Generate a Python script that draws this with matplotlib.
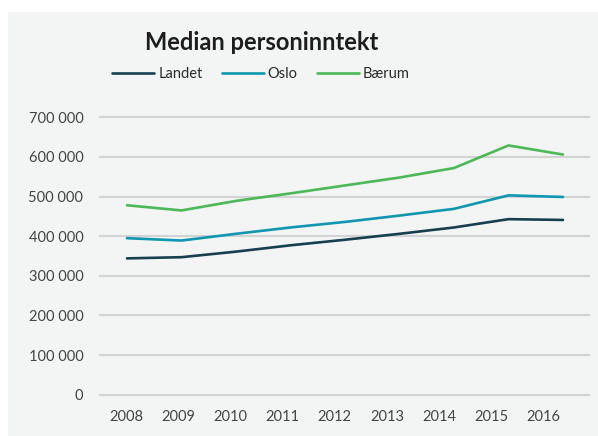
#! /bin/env python3
# plot.py - median personinntekt, Landet / Oslo / Bærum
import matplotlib
matplotlib.use("Agg")
import matplotlib.pyplot as plt
import matplotlib.patches as mpatches
import numpy as np

years = ["2008", "2009", "2010", "2011", "2012", "2013", "2014", "2015", "2016"]
landet = [344000, 347000, 361000, 377000, 391000, 406000, 422000, 443000, 441000]
oslo = [395000, 389000, 406000, 422000, 436000, 452000, 469000, 503000, 499000]
baerum = [478000, 465000, 489000, 508000, 528000, 548000, 572000, 629000, 606000]
yticks = [0, 100000, 200000, 300000, 400000, 500000, 600000, 700000]

plt.rcParams['font.family'] = ['Lato', 'DejaVu Sans']

fig = plt.figure(figsize=(5.98, 4.36), dpi=100, facecolor="white")
# light grey panel behind everything (zorder below the axes)
fig.patches.append(mpatches.Rectangle((8/598, 0), 1, 1 - 12/436, transform=fig.transFigure,
                                      facecolor="#f3f5f5", edgecolor="none", zorder=-5))

ax = fig.add_axes([100/598, 1 - 394.7/436, 489/598, (394.7 - 117.3)/436])
ax.set_facecolor("none")

x = np.arange(len(years))
ax.plot(x, landet, color="#173f50", lw=1.9, label="Landet", solid_capstyle="round")
ax.plot(x, oslo, color="#0f96b0", lw=1.9, label="Oslo", solid_capstyle="round")
ax.plot(x, baerum, color="#4cb857", lw=1.9, label="Bærum", solid_capstyle="round")

ax.set_xlim(-27/54.5, 8 + 26/54.5)
ax.set_ylim(0, 700000)
ax.set_yticks(yticks)
ax.set_yticklabels(["{:,}".format(v).replace(",", " ") for v in yticks])
# year labels sit a bit tighter than the data points in the original
ax.set_xticks(x * 0.958 - 0.02)
ax.set_xticklabels(years)
ax.tick_params(length=0, labelsize=10.5, labelcolor="#444444")
ax.tick_params(axis="y", pad=12)
ax.tick_params(axis="x", pad=11)
for s in ax.spines.values():
    s.set_visible(False)
for v in yticks:
    ax.axhline(v, color="#d3d3d3", lw=1.5, zorder=0, clip_on=False)

fig.text(262/598, 1 - 43/436, "Median personinntekt", ha="center", va="center",
         fontsize=17, fontweight="bold", color="#1d1d1d")
fig.legend(loc="center", bbox_to_anchor=(261/598, 1 - 74/436), ncol=3, frameon=False,
           handlelength=2.9, handletextpad=0.27, columnspacing=1.3,
           prop={"size": 10.5}, labelcolor="#2a2a2a")

fig.savefig("out.png", dpi=100, facecolor="white")
